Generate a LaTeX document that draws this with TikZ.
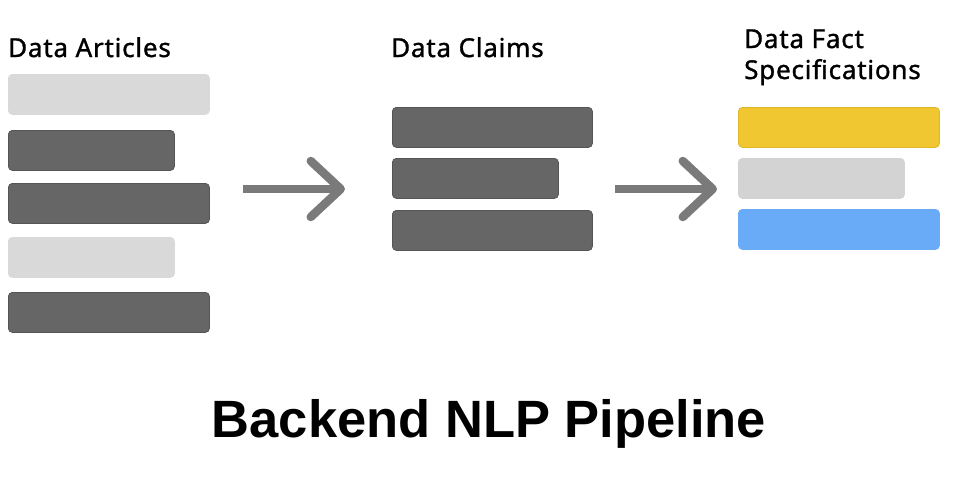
\documentclass[tikz,border=0pt]{standalone}
\usepackage{fontspec}
\setmainfont{Noto Sans}
\newfontfamily\headfont[FakeBold=1.2, LetterSpace=3]{Noto Sans}
\newfontfamily\titlefont{Liberation Sans}
\usepackage{tikz}
\usetikzlibrary{positioning, shapes, arrows.meta, calc}

\definecolor{barDark}{HTML}{666666}
\definecolor{barEdge}{HTML}{555555}
\definecolor{barLight}{HTML}{D9D9D9}
\definecolor{barGray}{HTML}{D3D3D3}
\definecolor{barYellow}{HTML}{F1C731}
\definecolor{barBlue}{HTML}{6AABF8}
\definecolor{arrowGray}{HTML}{7A7A7A}

\tikzset{
  bar/.style={rectangle, rounded corners=4pt, inner sep=0pt, minimum height=40pt, anchor=north west, line width=0.8pt},
  darkbar/.style={bar, fill=barDark, draw=barEdge},
  lightbar/.style={bar, fill=barLight, draw=barLight},
  graybar/.style={bar, fill=barGray, draw=barGray},
  yellowbar/.style={bar, fill=barYellow, draw=barYellow!92!black},
  bluebar/.style={bar, fill=barBlue, draw=barBlue},
  heading/.style={anchor=base west, inner sep=0pt, font=\headfont\fontsize{26}{31}\selectfont, align=left},
  flow/.style={draw=arrowGray, line width=8.5pt, -{Straight Barb[length=30pt, width=56pt, round]}}
}

\begin{document}
\begin{tikzpicture}[x=1pt, y=-1pt]
                  \useasboundingbox (0,0) rectangle (960,480);

                  % Headings
                  \node[heading] (hart) at (8,57) {Data Articles};
                  \node[heading] (hclm) at (391,57) {Data Claims};
                  \node[heading] (hspec) at (744,79) {Data Fact\\Specifications};

                  % Bars
                  \foreach \i/\y/\w/\s in {1/74/201/lightbar, 2/130/166/darkbar, 3/183/201/darkbar, 4/237/166/lightbar, 5/292/201/darkbar}
                  \node[\s, minimum width=\w pt] (art\i) at (8,\y) {};
                  \foreach \i/\y/\w in {1/107/200, 2/158/166, 3/210/200}
                  \node[darkbar, minimum width=\w pt] (clm\i) at (392,\y) {};
                  \foreach \i/\y/\w/\s in {1/107/201/yellowbar, 2/158/166/graybar, 3/209/201/bluebar}
                  \node[\s, minimum width=\w pt] (spec\i) at (738,\y) {};

                  % Arrows
                  \coordinate (flow1a) at (243,189);
                  \coordinate (flow1b) at (345,189);
                  \coordinate (flow2a) at (615,189);
                  \coordinate (flow2b) at (717,189);
                  \draw[flow] (flow1a) -- (flow1b);
                  \draw[flow] (flow2a) -- (flow2b);

                  % Title
                  \node[anchor=base, inner sep=0pt, font=\titlefont\bfseries\fontsize{52.5}{60}\selectfont] (title) at (489,437) {Backend NLP Pipeline};
              \end{tikzpicture}
\end{document}
